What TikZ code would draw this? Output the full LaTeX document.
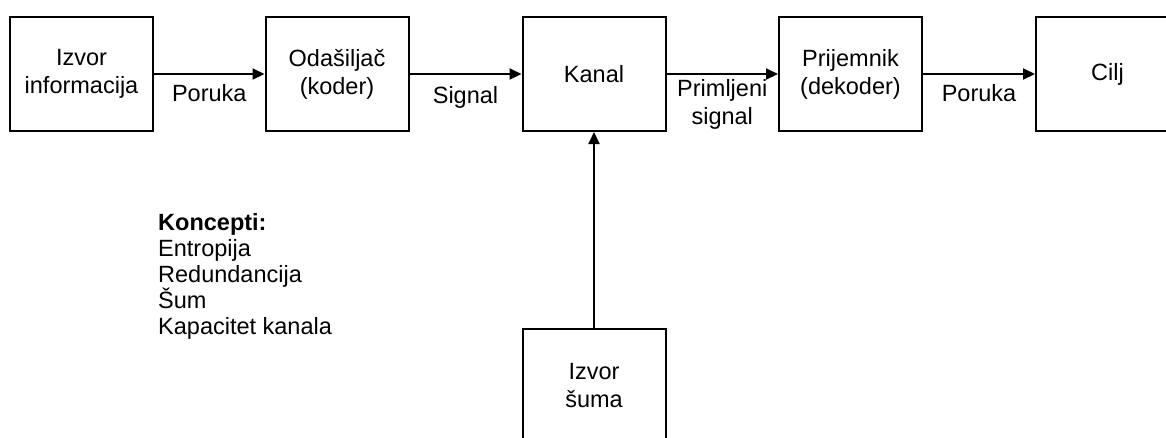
\documentclass[tikz,border=0pt]{standalone}
\usepackage{fontspec}
\setmainfont{Liberation Sans}
\usetikzlibrary{arrows.meta}
\begin{document}
\begin{tikzpicture}[x=1pt,y=-1pt,
    blok/.style={draw,line width=2pt,minimum width=143pt,minimum height=114pt,
      align=center,inner sep=0pt,font=\fontsize{23.5}{28}\selectfont},
    tok/.style={line width=2pt,-{Triangle[length=12pt,width=11pt]}},
    oznaka/.style={align=center,inner sep=0pt,font=\fontsize{23.5}{28}\selectfont}]
  \useasboundingbox (0,0) rectangle (1166,437);
  \node[blok] (izvor) at (81.5,74) {Izvor\\informacija};
  \node[blok] (odasiljac) at (337,74) {Odašiljač\\(koder)};
  \node[blok] (kanal) at (594,74) {Kanal};
  \node[blok] (prijemnik) at (850.5,74) {Prijemnik\\(dekoder)};
  \node[blok] (cilj) at (1107.5,74) {Cilj};
  \node[blok] (sum) at (594,386) {Izvor\\šuma};
  \draw[tok] (izvor) -- node[oznaka,below=9pt] (poruka1) {Poruka} (odasiljac);
  \draw[tok] (odasiljac) -- node[oznaka,below=11pt] (signal) {Signal} (kanal);
  \draw[tok] (kanal) -- node[oznaka,below=4pt] (primljeni) {Primljeni\\signal} (prijemnik);
  \draw[tok] (prijemnik) -- node[oznaka,below=9pt] (poruka2) {Poruka} (cilj);
  \draw[tok] (sum) -- (kanal);
  \node[anchor=north west,align=left,inner sep=0pt,font=\fontsize{23.5}{26}\selectfont]
    (koncepti) at (158,213) {\textbf{Koncepti:}\\Entropija\\Redundancija\\Šum\\Kapacitet kanala};
\end{tikzpicture}
\end{document}
